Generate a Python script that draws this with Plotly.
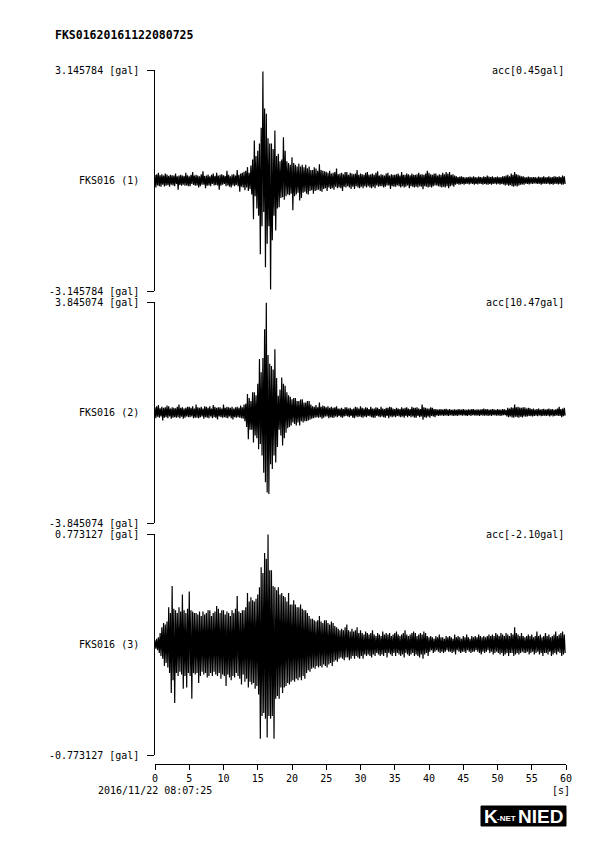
import plotly.graph_objects as go

# ---------------- data ----------------
TITLE = "FKS01620161122080725"
START_TIME = "2016/11/22 08:07:25"
STATION_LABELS = ["FKS016 (1)", "FKS016 (2)", "FKS016 (3)"]
OFFSET_LABELS = ["acc[0.45gal]", "acc[10.47gal]", "acc[-2.10gal]"]
AMP_MAX = [3.145784, 3.845074, 0.773127]
SAMPLE_INTERVAL = 0.25  # s, one max/min pair per interval
X_TICKS = [0, 5, 10, 15, 20, 25, 30, 35, 40, 45, 50, 55, 60]

# per-interval maxima / minima of acceleration [gal]
up1 = [
    .16, .18, .22, .15, .18, .14, .20, .17, .13, .16, .15, .14, .20, .12, .14, .16, .14, .13, .22, .15,
    .12, .16, .24, .14, .16, .14, .12, .18, .26, .13, .14, .17, .12, .16, .20, .13, .22, .14, .16, .18,
    .15, .13, .28, .16, .12, .17, .18, .14, .30, .16, .20, .22, .25, .28, .38, .22, .43, .60, 1.14, .70,
    .85, 1.05, 1.50, 3.10, 2.05, 1.90, 1.20, 1.05, 1.05, .90, 1.42, .70, .76, .55, .60, 1.23, .85, .55, .50, .45,
    .66, .50, .45, .40, .48, .40, .45, .38, .45, .35, .40, .30, .30, .38, .34, .28, .46, .30, .28, .26,
    .25, .22, .28, .20, .22, .24, .34, .18, .20, .22, .18, .24, .24, .16, .22, .20, .18, .20, .30, .16,
    .20, .18, .16, .22, .24, .16, .18, .20, .16, .22, .26, .14, .18, .16, .14, .20, .22, .14, .18, .16,
    .16, .18, .20, .14, .24, .16, .16, .20, .18, .15, .20, .16, .16, .18, .22, .17, .18, .16, .20, .28,
    .22, .18, .16, .20, .20, .14, .18, .16, .22, .18, .24, .20, .24, .16, .18, .14, .12, .10, .11, .12,
    .10, .09, .09, .10, .11, .09, .12, .10, .09, .11, .10, .09, .12, .10, .14, .11, .10, .12, .09, .10,
    .11, .09, .10, .12, .12, .14, .16, .12, .20, .16, .24, .18, .16, .14, .12, .12, .10, .09, .11, .10,
    .09, .10, .10, .08, .11, .09, .10, .12, .09, .10, .12, .09, .10, .12, .11, .10, .12, .10, .14, .12,
]
lo1 = [
    -.20, -.14, -.16, -.18, -.12, -.17, -.15, -.13, -.18, -.12, -.14, -.16, -.10, -.26, -.13, -.15, -.12, -.15, -.14, -.16,
    -.16, -.10, -.13, -.15, -.14, -.20, -.16, -.12, -.12, -.22, -.15, -.14, -.16, -.10, -.14, -.13, -.14, -.26, -.15, -.12,
    -.10, -.16, -.14, -.18, -.20, -.14, -.16, -.13, -.16, -.32, -.18, -.20, -.28, -.20, -.30, -.25, -.40, -1.10, -.45, -.80,
    -1.00, -2.10, -1.30, -.90, -2.47, -1.80, -1.30, -3.10, -1.70, -1.00, -1.42, -.80, -.76, -.50, -.48, -.55, -.45, -.40, -.42, -.38,
    -.85, -.45, -.40, -.35, -.57, -.50, -.35, -.32, -.38, -.40, -.30, -.28, -.38, -.30, -.28, -.26, -.30, -.32, -.24, -.22,
    -.30, -.20, -.24, -.22, -.26, -.18, -.22, -.20, -.22, -.30, -.18, -.20, -.16, -.20, -.24, -.18, -.24, -.16, -.20, -.22,
    -.18, -.22, -.16, -.20, -.16, -.20, -.22, -.18, -.22, -.14, -.18, -.16, -.16, -.20, -.18, -.14, -.14, -.24, -.16, -.18,
    -.18, -.14, -.16, -.20, -.16, -.20, -.18, -.14, -.22, -.16, -.18, -.20, -.18, -.20, -.16, -.18, -.25, -.16, -.18, -.20,
    -.18, -.20, -.16, -.14, -.14, -.16, -.18, -.20, -.18, -.20, -.16, -.22, -.16, -.14, -.18, -.12, -.10, -.12, -.11, -.10,
    -.12, -.10, -.09, -.11, -.09, -.10, -.12, -.10, -.11, -.09, -.10, -.12, -.10, -.11, -.12, -.10, -.12, -.10, -.09, -.11,
    -.09, -.12, -.10, -.11, -.14, -.12, -.15, -.13, -.16, -.18, -.15, -.17, -.14, -.12, -.11, -.12, -.09, -.10, -.11, -.09,
    -.10, -.08, -.09, -.10, -.09, -.12, -.10, -.09, -.10, -.09, -.11, -.10, -.12, -.10, -.09, -.11, -.10, -.12, -.11, -.10,
]

up2 = [
    .18, .22, .26, .15, .20, .16, .18, .24, .22, .14, .18, .16, .15, .20, .28, .16, .18, .14, .16, .20,
    .20, .16, .22, .14, .28, .18, .16, .20, .14, .22, .20, .16, .22, .14, .26, .20, .16, .18, .18, .14,
    .28, .16, .20, .18, .16, .20, .14, .18, .20, .16, .24, .18, .28, .30, .64, .50, .40, .70, .70, .60,
    1.00, 1.86, 1.40, 1.90, 2.90, 3.82, 2.00, 1.70, 1.62, 1.50, 2.20, 1.20, .58, .80, 1.22, 1.00, .93, .70, .60, .55,
    .46, .50, .50, .40, .40, .45, .46, .35, .35, .40, .40, .28, .22, .20, .26, .18, .35, .20, .24, .22,
    .18, .22, .16, .20, .16, .18, .22, .14, .14, .16, .12, .18, .18, .14, .16, .12, .14, .20, .18, .14,
    .22, .16, .14, .18, .16, .12, .20, .14, .14, .18, .16, .12, .20, .14, .12, .16, .16, .20, .18, .14,
    .12, .16, .14, .12, .18, .14, .16, .18, .14, .12, .20, .16, .16, .18, .14, .12, .28, .18, .16, .14,
    .14, .18, .16, .12, .12, .10, .11, .12, .10, .12, .13, .10, .12, .09, .10, .11, .09, .12, .11, .10,
    .12, .10, .09, .11, .10, .12, .12, .09, .11, .10, .10, .12, .14, .11, .12, .10, .10, .12, .11, .09,
    .12, .10, .10, .12, .11, .09, .16, .14, .18, .16, .28, .18, .20, .17, .16, .18, .18, .14, .16, .15,
    .12, .14, .10, .12, .14, .10, .12, .13, .10, .12, .14, .11, .12, .10, .11, .14, .20, .12, .14, .16,
]
lo2 = [
    -.20, -.15, -.18, -.14, -.28, -.18, -.16, -.20, -.14, -.22, -.18, -.16, -.18, -.16, -.20, -.15, -.22, -.18, -.14, -.16,
    -.16, -.14, -.20, -.18, -.18, -.20, -.16, -.14, -.22, -.16, -.18, -.20, -.14, -.20, -.16, -.18, -.24, -.14, -.16, -.18,
    -.16, -.18, -.20, -.14, -.20, -.24, -.16, -.18, -.16, -.18, -.20, -.22, -.30, -.50, -.93, -.60, -.60, -1.04, -.80, -.90,
    -1.28, -1.10, -1.50, -2.10, -2.43, -2.78, -2.84, -1.80, -1.97, -1.50, -1.74, -1.20, -.60, -.80, -1.15, -.90, -.70, -.55, -.50, -.45,
    -.35, -.40, -.45, -.35, -.45, -.30, -.35, -.30, -.30, -.28, -.25, -.22, -.20, -.18, -.16, -.18, -.16, -.22, -.18, -.14,
    -.14, -.20, -.16, -.18, -.18, -.14, -.16, -.12, -.16, -.18, -.14, -.12, -.14, -.16, -.12, -.18, -.20, -.14, -.16, -.14,
    -.16, -.18, -.14, -.16, -.12, -.14, -.16, -.18, -.18, -.12, -.14, -.16, -.14, -.16, -.18, -.12, -.20, -.14, -.16, -.14,
    -.16, -.12, -.14, -.16, -.14, -.18, -.12, -.16, -.12, -.16, -.14, -.18, -.18, -.12, -.16, -.14, -.25, -.16, -.18, -.14,
    -.18, -.12, -.14, -.16, -.10, -.12, -.11, -.10, -.12, -.10, -.11, -.12, -.09, -.11, -.12, -.10, -.12, -.10, -.09, -.11,
    -.10, -.11, -.12, -.09, -.12, -.09, -.10, -.11, -.10, -.12, -.09, -.11, -.11, -.10, -.12, -.10, -.12, -.09, -.10, -.11,
    -.10, -.12, -.11, -.09, -.09, -.14, -.16, -.14, -.17, -.18, -.15, -.16, -.18, -.15, -.17, -.14, -.15, -.14, -.12, -.13,
    -.14, -.12, -.11, -.13, -.10, -.13, -.12, -.11, -.12, -.11, -.14, -.10, -.14, -.12, -.10, -.12, -.12, -.16, -.13, -.11,
]

up3 = [
    .030, .040, .050, .080, .120, .150, .140, .160, .260, .220, .410, .250, .240, .220, .260, .230, .350, .240, .220, .250,
    .370, .240, .230, .220, .220, .210, .230, .200, .230, .210, .220, .240, .240, .200, .220, .230, .270, .250, .220, .240,
    .240, .210, .230, .220, .200, .240, .220, .250, .340, .230, .220, .240, .240, .260, .360, .300, .330, .310, .300, .320,
    .350, .400, .540, .500, .640, .600, .770, .520, .520, .410, .400, .380, .400, .350, .360, .340, .330, .300, .360, .280,
    .280, .310, .280, .260, .260, .280, .250, .240, .240, .220, .200, .180, .180, .170, .160, .170, .200, .160, .150, .170,
    .170, .150, .140, .160, .150, .130, .120, .110, .100, .110, .100, .120, .140, .100, .090, .110, .090, .100, .120, .080,
    .100, .080, .070, .090, .080, .070, .080, .100, .070, .060, .080, .070, .060, .090, .070, .080, .070, .080, .060, .070,
    .080, .090, .070, .060, .070, .080, .100, .070, .060, .070, .080, .090, .080, .060, .070, .080, .070, .090, .080, .060,
    .050, .060, .050, .040, .060, .050, .070, .050, .050, .040, .060, .050, .060, .050, .040, .070, .050, .060, .050, .040,
    .060, .050, .070, .050, .040, .060, .050, .060, .050, .070, .060, .050, .060, .050, .060, .070, .060, .070, .060, .080,
    .070, .060, .080, .070, .060, .080, .070, .060, .080, .070, .120, .080, .070, .060, .080, .060, .050, .060, .070, .060,
    .070, .050, .060, .090, .060, .070, .050, .060, .080, .060, .070, .050, .060, .070, .090, .060, .070, .080, .090, .070,
]
lo3 = [
    -.030, -.040, -.060, -.080, -.100, -.150, -.130, -.160, -.200, -.340, -.250, -.410, -.200, -.220, -.190, -.210, -.310, -.220, -.300, -.200,
    -.220, -.380, -.200, -.210, -.200, -.270, -.220, -.190, -.210, -.200, -.230, -.220, -.200, -.220, -.190, -.210, -.220, -.200, -.240, -.210,
    -.220, -.290, -.210, -.230, -.250, -.220, -.230, -.200, -.220, -.240, -.280, -.210, -.260, -.240, -.300, -.260, -.280, -.270, -.310, -.290,
    -.350, -.660, -.500, -.480, -.520, -.650, -.500, -.520, -.500, -.660, -.380, -.360, -.380, -.300, -.340, -.300, -.290, -.270, -.280, -.260,
    -.250, -.260, -.240, -.250, -.230, -.250, -.220, -.240, -.200, -.180, -.190, -.170, -.160, -.170, -.150, -.160, -.150, -.160, -.140, -.150,
    -.160, -.140, -.130, -.150, -.120, -.110, -.120, -.100, -.090, -.100, -.110, -.090, -.090, -.110, -.100, -.080, -.100, -.080, -.090, -.100,
    -.080, -.100, -.070, -.080, -.070, -.080, -.090, -.070, -.080, -.060, -.070, -.080, -.070, -.080, -.060, -.090, -.060, -.070, -.080, -.060,
    -.080, -.060, -.070, -.080, -.070, -.090, -.060, -.070, -.080, -.070, -.060, -.080, -.070, -.080, -.090, -.070, -.100, -.070, -.060, -.080,
    -.050, -.040, -.060, -.050, -.040, -.050, -.060, -.050, -.060, -.050, -.040, -.050, -.050, -.060, -.050, -.070, -.040, -.050, -.060, -.050,
    -.050, -.060, -.040, -.050, -.060, -.050, -.050, -.040, -.050, -.060, -.070, -.050, -.060, -.050, -.040, -.060, -.050, -.070, -.060, -.050,
    -.060, -.070, -.060, -.080, -.070, -.060, -.080, -.060, -.060, -.080, -.070, -.060, -.070, -.060, -.050, -.060, -.060, -.050, -.070, -.060,
    -.050, -.070, -.060, -.050, -.070, -.060, -.080, -.060, -.060, -.070, -.050, -.080, -.070, -.060, -.070, -.050, -.060, -.080, -.070, -.060,
]

# ---------------- figure ----------------
OFF = 8                      # default page margin of the html body
W, H = 595 - 2 * OFF, 841 - 2 * OFF
FONT = "DejaVu Sans Mono"
X_LEFT, X_RIGHT = 155, 566   # page pixels
PANELS = [(70, 291), (302, 523), (534, 755)]
X_AXIS_Y = 764


def fx(p):
    return (p - OFF) / W


def fy(p):
    return 1 - (p - OFF) / H


fig = go.Figure()
series = [(up1, lo1), (up2, lo2), (up3, lo3)]
yaxis_names = ["y", "y2", "y3"]
for i, (up, lo) in enumerate(series):
    xs, ys = [], []
    for k in range(len(up)):
        t0 = k * SAMPLE_INTERVAL
        xs += [t0, t0 + SAMPLE_INTERVAL / 2]
        ys += [up[k], lo[k]]
    fig.add_trace(go.Scatter(
        x=xs, y=ys, mode="lines", xaxis="x", yaxis=yaxis_names[i],
        line=dict(color="black", width=1.2), hoverinfo="skip", showlegend=False,
    ))

layout = dict(
    width=W, height=H,
    margin=dict(l=0, r=0, t=0, b=0, autoexpand=False),
    paper_bgcolor="white", plot_bgcolor="white",
    font=dict(family=FONT, size=10, color="black"),
    showlegend=False,
    xaxis=dict(
        domain=[fx(X_LEFT), fx(X_RIGHT)], range=[0, 60], anchor="free",
        position=fy(X_AXIS_Y), showline=True, linecolor="black", linewidth=1,
        ticks="outside", ticklen=5, tickwidth=1, tickcolor="black",
        tickvals=X_TICKS, ticktext=[str(v) for v in X_TICKS],
        tickfont=dict(family=FONT, size=10, color="black"),
        showgrid=False, zeroline=False, fixedrange=True, automargin=False,
    ),
)
annotations = []
for i, (top, bot) in enumerate(PANELS):
    name = "yaxis" if i == 0 else f"yaxis{i + 1}"
    R = AMP_MAX[i]
    layout[name] = dict(
        domain=[fy(bot), fy(top)], range=[-R, R], anchor="x",
        showline=True, linecolor="black", linewidth=1,
        ticks="outside", ticklen=7, tickwidth=1, tickcolor="black",
        tickvals=[-R, R], showticklabels=False,
        showgrid=False, zeroline=False, fixedrange=True, automargin=False,
    )
    yref = yaxis_names[i]
    annotations.append(dict(text=f"{R:.6f} [gal]", x=fx(141), y=R, xref="paper", yref=yref,
                            xanchor="right", yanchor="middle", showarrow=False))
    annotations.append(dict(text=f"-{R:.6f} [gal]", x=fx(141), y=-R, xref="paper", yref=yref,
                            xanchor="right", yanchor="middle", showarrow=False))
    annotations.append(dict(text=STATION_LABELS[i], x=fx(141), y=0, xref="paper", yref=yref,
                            xanchor="right", yanchor="middle", showarrow=False))
    annotations.append(dict(text=OFFSET_LABELS[i], x=fx(566), y=R, xref="paper", yref=yref,
                            xanchor="right", yanchor="middle", showarrow=False))

annotations.append(dict(text=f"<b>{TITLE}</b>", x=fx(53), y=fy(35.5), xref="paper", yref="paper",
                        xanchor="left", yanchor="middle", showarrow=False,
                        font=dict(family=FONT, size=11.5, color="black")))
annotations.append(dict(text=START_TIME, x=fx(155), y=fy(790), xref="paper", yref="paper",
                        xanchor="center", yanchor="middle", showarrow=False))
annotations.append(dict(text="[s]", x=fx(572), y=fy(790), xref="paper", yref="paper",
                        xanchor="right", yanchor="middle", showarrow=False))

# logo
shapes = [
    dict(type="rect", xref="paper", yref="paper", x0=fx(481), x1=fx(566), y0=fy(826), y1=fy(806),
         fillcolor="black", line=dict(color="black", width=1)),
]
LOGO_FONT = "Liberation Sans Narrow, Liberation Sans"
annotations.append(dict(text="<b>K</b>", x=fx(482), y=fy(816), xref="paper", yref="paper",
                        xanchor="left", yanchor="middle", showarrow=False,
                        font=dict(family=LOGO_FONT, size=19, color="white")))
annotations.append(dict(text="<b>-NET</b>", x=fx(495), y=fy(818), xref="paper", yref="paper",
                        xanchor="left", yanchor="middle", showarrow=False,
                        font=dict(family=LOGO_FONT, size=8, color="white")))
annotations.append(dict(text="<b>NIED</b>", x=fx(565), y=fy(816), xref="paper", yref="paper",
                        xanchor="right", yanchor="middle", showarrow=False,
                        font=dict(family=LOGO_FONT, size=19, color="white")))

layout["annotations"] = annotations
layout["shapes"] = shapes
fig.update_layout(**layout)
fig.write_html("out.html")
